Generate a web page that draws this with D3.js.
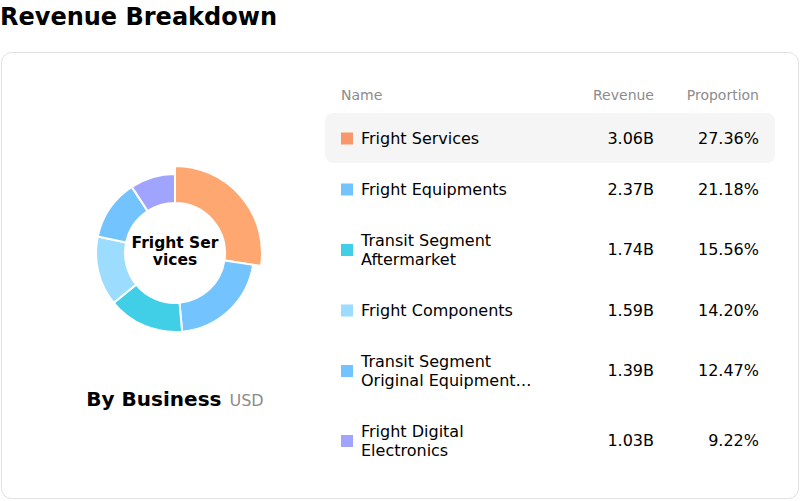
<!DOCTYPE html>
<html>
<head>
<meta charset="utf-8">
<script src="https://cdn.jsdelivr.net/npm/d3@7"></script>
<style>
  body { margin: 0; background: #fff; font-family: "DejaVu Sans", sans-serif; }
  svg text { font-family: "DejaVu Sans", sans-serif; }
</style>
</head>
<body>
<div id="chart"></div>
<script>
// data
const names = ["Fright Services", "Fright Equipments", "Transit Segment Aftermarket",
  "Fright Components", "Transit Segment Original Equipment Manufacturer", "Fright Digital Electronics"];
const nameLines = [["Fright Services"], ["Fright Equipments"], ["Transit Segment", "Aftermarket"],
  ["Fright Components"], ["Transit Segment", "Original Equipment\u2026"], ["Fright Digital", "Electronics"]];
const revenue = [3.06, 2.37, 1.74, 1.59, 1.39, 1.03];
const proportion = [27.36, 21.18, 15.56, 14.20, 12.47, 9.22];
const sliceColors = ["#ffa771", "#73c3ff", "#40cfe6", "#9bdcff", "#73c3ff", "#a1a4ff"];
const keyColors = ["#f9976a", "#73c3ff", "#40cfe6", "#9bdcff", "#73c3ff", "#a1a4ff"];
const activeIndex = 0;

const width = 800, height = 501;
const svg = d3.select("#chart").append("svg")
  .attr("width", width)
  .attr("height", height);

svg.append("text")
  .attr("x", 0).attr("y", 25)
  .attr("font-size", 24).attr("font-weight", "bold")
  .attr("fill", "#000")
  .text("Revenue Breakdown");

svg.append("rect")
  .attr("x", 1.5).attr("y", 52.5)
  .attr("width", 797).attr("height", 446)
  .attr("rx", 10)
  .attr("fill", "#fff").attr("stroke", "#e0e0e0");

// donut
const cx = 175, cy = 253;
const inner = 50, outer = 79, outerActive = 87;
const rows = names.map((n, i) => ({name: n, lines: nameLines[i], revenue: revenue[i], proportion: proportion[i], i: i}));
const pie = d3.pie().value(d => d.revenue).sort(null);
const arc = d3.arc().innerRadius(inner).outerRadius(d => d.index === activeIndex ? outerActive : outer);

const g = svg.append("g").attr("transform", `translate(${cx},${cy})`);
g.selectAll("path")
  .data(pie(rows))
  .enter()
  .append("path")
  .attr("d", arc)
  .attr("fill", d => sliceColors[d.index])
  .attr("stroke", "#fff")
  .attr("stroke-width", 2);

g.append("text")
  .attr("text-anchor", "middle")
  .attr("font-size", 15.5).attr("font-weight", "bold").attr("fill", "#000")
  .selectAll("tspan")
  .data(["Fright Ser", "vices"])
  .enter().append("tspan")
  .attr("x", 0)
  .attr("y", (d, i) => -5 + i * 17)
  .text(d => d);

const caption = svg.append("text")
  .attr("x", cx).attr("y", 406)
  .attr("text-anchor", "middle");
caption.append("tspan")
  .attr("font-size", 20).attr("font-weight", "bold").attr("fill", "#000")
  .text("By Business");
caption.append("tspan")
  .attr("font-size", 16).attr("fill", "#8c8c8c").attr("dx", 8)
  .text("USD");

// table
const nameX = 341, revX = 654, propX = 759;
const header = svg.append("g").attr("font-size", 14).attr("fill", "#8c8c8c");
header.append("text").attr("x", nameX).attr("y", 100).text("Name");
header.append("text").attr("x", revX).attr("y", 100).attr("text-anchor", "end").text("Revenue");
header.append("text").attr("x", propX).attr("y", 100).attr("text-anchor", "end").text("Proportion");

const rowH = d => d.lines.length > 1 ? 70 : 51;
let rowTop = 113;
rows.forEach(d => { d.top = rowTop; d.h = rowH(d); rowTop += d.h; });

const row = svg.selectAll(".row")
  .data(rows)
  .enter().append("g")
  .attr("class", "row")
  .attr("transform", d => `translate(0,${d.top + d.h / 2})`);

row.filter(d => d.i === activeIndex)
  .append("rect")
  .attr("x", 325).attr("y", d => -d.h / 2)
  .attr("width", 450).attr("height", d => d.h - 1)
  .attr("rx", 8)
  .attr("fill", "#f5f5f5");

row.append("rect")
  .attr("x", nameX).attr("y", -6)
  .attr("width", 12).attr("height", 12)
  .attr("fill", d => keyColors[d.i]);

row.append("text")
  .attr("font-size", 16).attr("fill", "#000")
  .selectAll("tspan")
  .data(d => d.lines.map((l, k) => ({l: l, k: k, n: d.lines.length})))
  .enter().append("tspan")
  .attr("x", 361)
  .attr("y", t => 5 + (t.k - (t.n - 1) / 2) * 19)
  .text(t => t.l);

row.append("text")
  .attr("x", revX).attr("y", 5)
  .attr("text-anchor", "end")
  .attr("font-size", 16).attr("fill", "#000")
  .text(d => d.revenue.toFixed(2) + "B");

row.append("text")
  .attr("x", propX).attr("y", 5)
  .attr("text-anchor", "end")
  .attr("font-size", 16).attr("fill", "#000")
  .text(d => d.proportion.toFixed(2) + "%");
</script>
</body>
</html>
